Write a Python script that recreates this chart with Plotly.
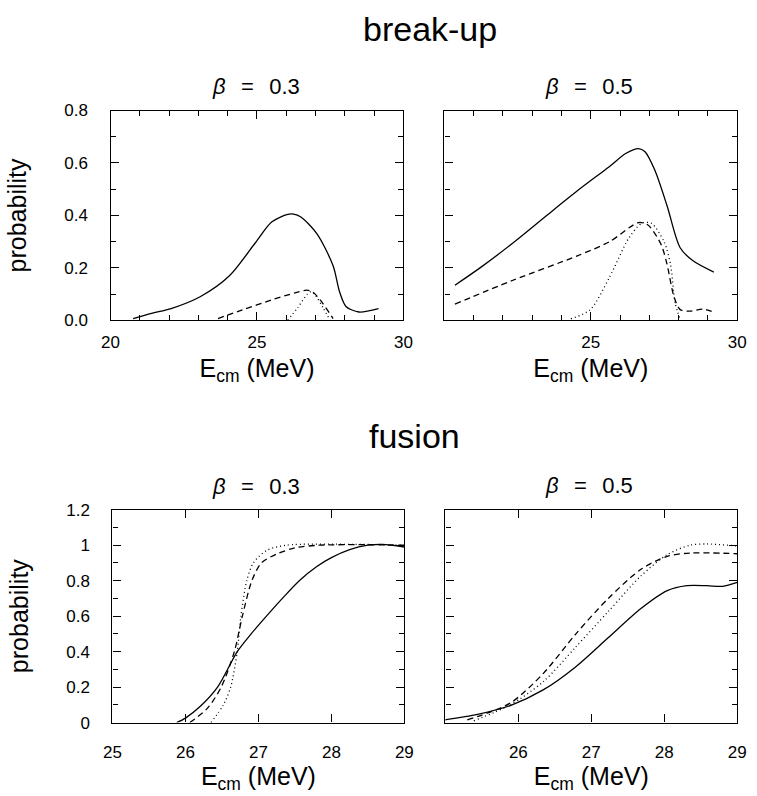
import plotly.graph_objects as go

# ---------------- data ----------------
# break-up, beta = 0.3
bu03_solid_x = [20.77, 21.4, 22.07, 23.06, 24.06, 24.94, 25.5, 26.05, 26.25, 26.5, 27.05, 27.6, 27.82, 28.04, 28.48, 29.15]
bu03_solid_y = [0.007, 0.027, 0.045, 0.09, 0.17, 0.295, 0.375, 0.404, 0.405, 0.394, 0.33, 0.208, 0.109, 0.053, 0.032, 0.045]
bu03_dash_x = [23.67, 24.5, 25.5, 26.3, 26.7, 26.9, 27.16, 27.6]
bu03_dash_y = [0.007, 0.04, 0.078, 0.105, 0.115, 0.108, 0.078, 0.007]
bu03_dot_x = [26.05, 26.4, 26.72, 26.85, 27.0, 27.25, 27.5]
bu03_dot_y = [0.0, 0.05, 0.10, 0.11, 0.095, 0.05, 0.0]

# break-up, beta = 0.5
bu05_solid_x = [20.36, 21.24, 22.34, 23.44, 24.54, 25.64, 26.19, 26.63, 26.85, 27.18, 27.6, 28.05, 28.49, 29.2]
bu05_solid_y = [0.134, 0.202, 0.295, 0.395, 0.494, 0.587, 0.636, 0.655, 0.643, 0.574, 0.438, 0.277, 0.227, 0.184]
bu05_dash_x = [20.36, 22.34, 24.54, 25.64, 26.63, 26.96, 27.4, 27.6, 27.84, 28.05, 28.38, 28.82, 29.2]
bu05_dash_y = [0.062, 0.153, 0.246, 0.30, 0.373, 0.363, 0.289, 0.215, 0.09, 0.041, 0.035, 0.043, 0.031]
bu05_dot_x = [24.32, 24.98, 25.64, 26.3, 26.74, 27.07, 27.5, 27.72, 27.88, 28.05]
bu05_dot_y = [0.006, 0.041, 0.165, 0.314, 0.37, 0.37, 0.30, 0.215, 0.066, 0.004]

# fusion, beta = 0.3
fu03_solid_x = [25.88, 26.0, 26.2, 26.44, 26.71, 26.9, 27.11, 27.35, 27.56, 27.8, 28.0, 28.25, 28.5, 28.7, 29.0]
fu03_solid_y = [0.0, 0.025, 0.09, 0.2, 0.4, 0.5, 0.6, 0.71, 0.8, 0.88, 0.93, 0.975, 1.0, 1.005, 0.99]
fu03_dash_x = [26.06, 26.3, 26.49, 26.67, 26.78, 26.91, 27.04, 27.25, 27.5, 27.83, 28.5, 29.0]
fu03_dash_y = [0.0, 0.08, 0.2, 0.4, 0.6, 0.8, 0.9, 0.95, 0.985, 1.0, 1.003, 1.0]
fu03_dot_x = [26.35, 26.52, 26.62, 26.71, 26.76, 26.84, 26.93, 27.11, 27.38, 28.3, 29.0]
fu03_dot_y = [0.0, 0.1, 0.2, 0.4, 0.6, 0.8, 0.9, 0.97, 1.0, 1.005, 1.0]

# fusion, beta = 0.5
fu05_solid_x = [24.99, 25.44, 25.89, 26.34, 26.78, 27.23, 27.68, 28.04, 28.31, 28.58, 28.8, 29.0]
fu05_solid_y = [0.015, 0.046, 0.096, 0.184, 0.3125, 0.478, 0.643, 0.744, 0.772, 0.772, 0.768, 0.79]
fu05_dash_x = [25.3, 25.89, 26.34, 26.78, 27.23, 27.68, 28.04, 28.35, 29.0]
fu05_dash_y = [0.015, 0.11, 0.276, 0.496, 0.699, 0.864, 0.9375, 0.956, 0.952]
fu05_dot_x = [25.39, 25.89, 26.34, 26.78, 27.23, 27.68, 28.04, 28.35, 28.58, 29.0]
fu05_dot_y = [0.01, 0.10, 0.23, 0.423, 0.625, 0.827, 0.947, 1.0, 1.007, 0.996]

top_yticks = [0.0, 0.2, 0.4, 0.6, 0.8]
bot_yticks = [0, 0.2, 0.4, 0.6, 0.8, 1, 1.2]
bot_yticktext = ["0", "0.2", "0.4", "0.6", "0.8", "1", "1.2"]

# ---------------- figure ----------------
W, H = 757, 796
FONT = "Liberation Sans, Arial, Helvetica, sans-serif"

def px_x(a, b):
    return [a / W, b / W]

def px_y(top, bottom):
    return [(H - bottom) / H, (H - top) / H]

fig = go.Figure()

DASH = "6px,4px"
DOT = "1px,3px"
panels = [
    ("", [(bu03_solid_x, bu03_solid_y, None), (bu03_dash_x, bu03_dash_y, DASH), (bu03_dot_x, bu03_dot_y, DOT)]),
    ("2", [(bu05_solid_x, bu05_solid_y, None), (bu05_dash_x, bu05_dash_y, DASH), (bu05_dot_x, bu05_dot_y, DOT)]),
    ("3", [(fu03_solid_x, fu03_solid_y, None), (fu03_dash_x, fu03_dash_y, DASH), (fu03_dot_x, fu03_dot_y, DOT)]),
    ("4", [(fu05_solid_x, fu05_solid_y, None), (fu05_dash_x, fu05_dash_y, DASH), (fu05_dot_x, fu05_dot_y, DOT)]),
]

for suf, series in panels:
    for xs, ys, dash in series:
        line = dict(color="black", width=1.3, shape="spline", smoothing=0.8)
        if dash:
            line["dash"] = dash
        fig.add_trace(go.Scatter(
            x=xs, y=ys, mode="lines", line=line,
            xaxis="x" + suf, yaxis="y" + suf, showlegend=False, hoverinfo="skip"))

title_font = dict(family=FONT, size=25, color="black")
XT = "E<sub>cm</sub> (MeV)"

def axis(**kw):
    d = dict(showgrid=False, zeroline=False, showline=True, linecolor="black", linewidth=1.3,
             mirror="allticks", ticks="inside", ticklen=8, tickwidth=1.2, tickcolor="black",
             tickfont=dict(family=FONT, size=17, color="black"))
    d.update(kw)
    return d

def minor(dt):
    return dict(ticks="inside", dtick=dt, ticklen=5, tickwidth=1, tickcolor="black")

lay = dict(width=W, height=H, margin=dict(l=0, r=0, t=0, b=0),
           plot_bgcolor="white", paper_bgcolor="white", showlegend=False)

# top-left
lay["xaxis"] = axis(domain=px_x(104, 404), anchor="y", range=[20, 30],
                    tickmode="array", tickvals=[20, 25, 30], minor=minor(1), ticklabelstandoff=6,
                    title=dict(text=XT, font=title_font, standoff=8))
lay["yaxis"] = axis(domain=px_y(104, 319), anchor="x", range=[0, 0.8],
                    tickmode="array", tickvals=top_yticks, tickformat=".1f", minor=minor(0.1),
                    ticklabelstandoff=18, title=dict(text="probability", font=title_font, standoff=30))
# top-right
lay["xaxis2"] = axis(domain=px_x(446, 746), anchor="y2", range=[20, 30],
                     tickmode="array", tickvals=[25, 30], minor=minor(1), ticklabelstandoff=6,
                     title=dict(text=XT, font=title_font, standoff=8))
lay["yaxis2"] = axis(domain=px_y(104, 319), anchor="x2", range=[0, 0.8],
                     tickmode="array", tickvals=top_yticks, minor=minor(0.1), showticklabels=False)
# bottom-left
lay["xaxis3"] = axis(domain=px_x(106, 405), anchor="y3", range=[25, 29],
                     tickmode="array", tickvals=[25, 26, 27, 28, 29], ticklabelstandoff=14,
                     title=dict(text=XT, font=title_font, standoff=6))
lay["yaxis3"] = axis(domain=px_y(513, 731), anchor="x3", range=[0, 1.2],
                     tickmode="array", tickvals=bot_yticks, ticktext=bot_yticktext, minor=minor(0.1),
                     ticklabelstandoff=18, title=dict(text="probability", font=title_font, standoff=30))
# bottom-right
lay["xaxis4"] = axis(domain=px_x(447, 746), anchor="y4", range=[25, 29],
                     tickmode="array", tickvals=[26, 27, 28, 29], ticklabelstandoff=14,
                     title=dict(text=XT, font=title_font, standoff=6))
lay["yaxis4"] = axis(domain=px_y(513, 731), anchor="x4", range=[0, 1.2],
                     tickmode="array", tickvals=bot_yticks, minor=minor(0.1), showticklabels=False)

big = dict(family=FONT, size=34, color="black")
sub = dict(family=FONT, size=22, color="black")
SP = "\u2002\u2009"

def note(text, x, y, font):
    return dict(text=text, x=x / W, y=1 - y / H, xref="paper", yref="paper",
                xanchor="center", yanchor="middle", showarrow=False, font=font)

lay["annotations"] = [
    note("break-up", 431, 21, big),
    note("fusion", 415, 437, big),
    note("<i>β</i>" + SP + "=" + SP + "0.3", 253, 79, sub),
    note("<i>β</i>" + SP + "=" + SP + "0.5", 594, 79, sub),
    note("<i>β</i>" + SP + "=" + SP + "0.3", 253, 489, sub),
    note("<i>β</i>" + SP + "=" + SP + "0.5", 594, 488, sub),
]

fig.update_layout(**lay)
fig.write_html("out.html")
